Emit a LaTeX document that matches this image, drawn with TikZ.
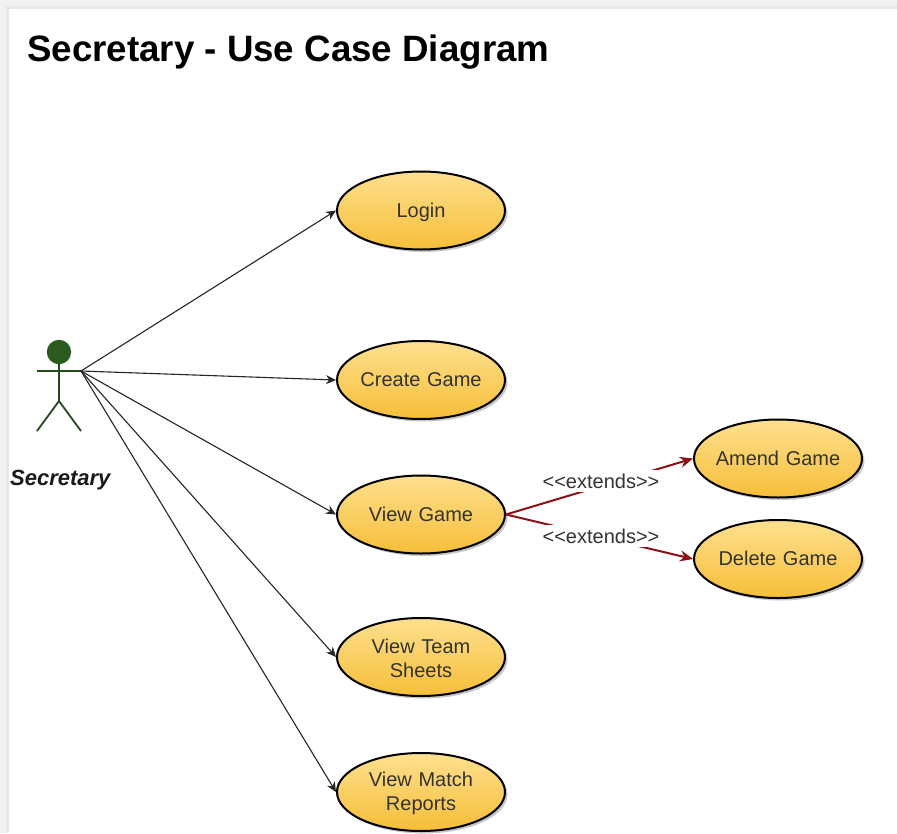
\documentclass[tikz,border=0pt]{standalone}
\usepackage{fontspec}
\setmainfont{Liberation Sans}
\usetikzlibrary{shapes.geometric,shadows,arrows.meta}
\definecolor{ucTop}{HTML}{FEE08F}
\definecolor{ucBot}{HTML}{F6BE38}
\definecolor{actorGreen}{HTML}{2A5A1C}
\definecolor{extRed}{HTML}{8E1014}
\definecolor{bandGrey}{HTML}{F2F2F2}
\definecolor{bandEdge}{HTML}{E8E8E8}
\newcommand{\ucone}[1]{\rule[-1.5pt]{0pt}{16.5pt}#1}
\newcommand{\uctwo}[2]{\rule{0pt}{17.5pt}#1\\#2}
\tikzset{
  usecase/.style={ellipse,draw=black,line width=2pt,minimum width=168pt,minimum height=78pt,
    inner ysep=0pt,inner xsep=-14pt,text width=134pt,
    top color=ucTop,bottom color=ucBot,align=center,text=black!80,font=\fontsize{20}{23.5}\selectfont,
    drop shadow={shadow xshift=2.5pt,shadow yshift=-2.5pt,fill=black,opacity=.22}},
  assoc/.style={draw=black!85,line width=1.1pt,-{Stealth[length=10pt,width=9pt]}},
  extline/.style={draw=extRed,line width=2pt,-{Stealth[length=13pt,width=11pt]}},
  extlabel/.style={fill=white,inner sep=0pt,minimum width=116pt,minimum height=22pt,text=black!80,font=\fontsize{20}{23}\selectfont},
  actorline/.style={draw=actorGreen!85!black,line width=1.8pt}
}
\begin{document}
\begin{tikzpicture}[x=1pt,y=-1pt]
\useasboundingbox (0,0) rectangle (897,833);
\fill[white] (0,0) rectangle (897,833);
\fill[bandGrey] (0,0) rectangle (897,8.5);
\fill[bandGrey] (0,0) rectangle (8.5,833);
\fill[bandEdge] (5.5,5.5) rectangle (897,8.5);
\fill[bandEdge] (5.5,5.5) rectangle (8.5,833);
\node[anchor=base west,inner sep=0pt,font=\fontsize{36.7}{40}\selectfont\bfseries] (title) at (27,61) {Secretary - Use Case Diagram};
% actor
\fill[actorGreen] (59,352) circle (12.2pt);
\draw[actorline] (59,364) -- (59,401);
\draw[actorline] (37,371) -- (81,371);
\draw[actorline] (37,431) -- (59,401) -- (81,431);
\coordinate (hand) at (81,371);
\node[anchor=base west,inner sep=0pt,font=\fontsize{22}{24}\selectfont\bfseries\itshape,text=black!90] (actorname) at (10,485) {Secretary};
% use cases
\node[usecase] (login) at (421,210.5) {\rule[-1.5pt]{0pt}{20pt}Login};
\node[usecase] (create) at (421,380) {\ucone{Create Game}};
\node[usecase] (view) at (421,514.5) {\ucone{View Game}};
\node[usecase] (team) at (421,657) {\uctwo{View Team}{Sheets}};
\node[usecase] (reports) at (421,792) {\uctwo{View Match}{Reports}};
\node[usecase] (amend) at (778,458.5) {\ucone{Amend Game}};
\node[usecase] (delete) at (778,559) {\ucone{Delete Game}};
% associations
\draw[assoc] (hand) -- (login.west);
\draw[assoc] (hand) -- (create.west);
\draw[assoc] (hand) -- (view.west);
\draw[assoc] (hand) -- (team.west);
\draw[assoc] (hand) -- (reports.west);
% extends
\draw[extline] (view.east) -- (amend.west);
\draw[extline] (view.east) -- (delete.west);
\node[extlabel] (ext1) at (601,481) {<{}<extends>{}>};
\node[extlabel] (ext2) at (601,536) {<{}<extends>{}>};
\end{tikzpicture}
\end{document}
